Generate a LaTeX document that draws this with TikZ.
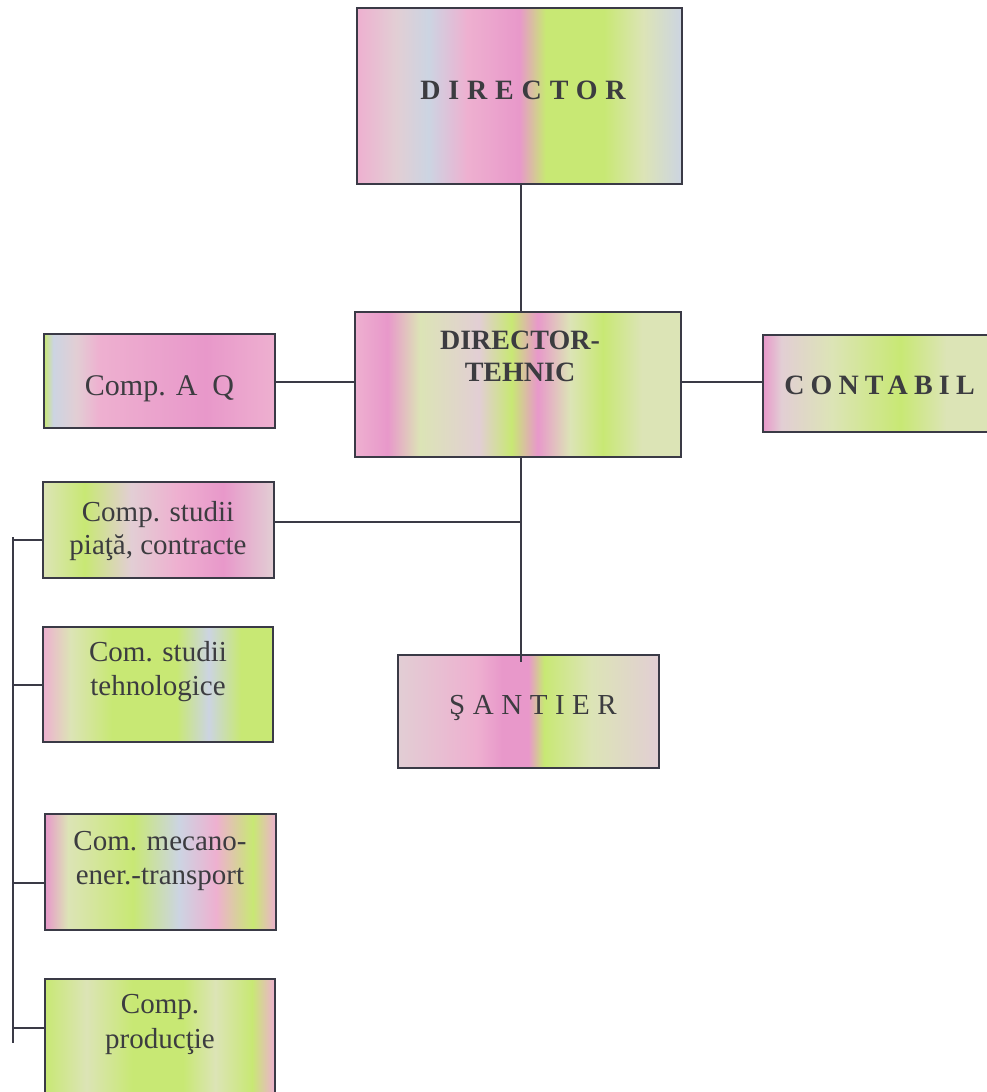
\documentclass[tikz,border=0pt]{standalone}
\usepackage{fontspec}
\setmainfont{Liberation Serif}
\usetikzlibrary{calc}
\definecolor{pk}{RGB}{238,176,208}
\definecolor{mg}{RGB}{232,152,202}
\definecolor{gr}{RGB}{200,232,116}
\definecolor{pg}{RGB}{220,228,182}
\definecolor{bl}{RGB}{204,212,226}
\definecolor{gy}{RGB}{226,206,212}
\definecolor{ink}{RGB}{60,60,64}
\definecolor{ln}{RGB}{58,58,70}
\pgfdeclarehorizontalshading{shDir}{100bp}{color(0bp)=(pk); color(25bp)=(pk); color(31bp)=(gy); color(36bp)=(bl); color(42bp)=(pk); color(50bp)=(mg); color(54bp)=(gr); color(63bp)=(gr); color(69bp)=(pg); color(75bp)=(bl); color(100bp)=(bl)}
\pgfdeclarehorizontalshading{shDT}{100bp}{color(0bp)=(pk); color(25bp)=(pk); color(30bp)=(mg); color(35bp)=(pg); color(44bp)=(gy); color(49bp)=(gr); color(53bp)=(mg); color(58bp)=(pg); color(63bp)=(gr); color(69bp)=(pg); color(75bp)=(pg); color(100bp)=(pg)}
\pgfdeclarehorizontalshading{shAQ}{100bp}{color(0bp)=(gr); color(25bp)=(gr); color(27bp)=(bl); color(32bp)=(gy); color(37bp)=(pk); color(60bp)=(mg); color(75bp)=(pk); color(100bp)=(pk)}
\pgfdeclarehorizontalshading{shCont}{100bp}{color(0bp)=(mg); color(25bp)=(mg); color(29bp)=(gy); color(40bp)=(pg); color(55bp)=(gr); color(65bp)=(pg); color(75bp)=(pg); color(100bp)=(pg)}
\pgfdeclarehorizontalshading{shCS}{100bp}{color(0bp)=(pg); color(25bp)=(pg); color(34bp)=(gr); color(44bp)=(gy); color(54bp)=(pk); color(64bp)=(mg); color(75bp)=(gy); color(100bp)=(gy)}
\pgfdeclarehorizontalshading{shCST}{100bp}{color(0bp)=(pk); color(25bp)=(pk); color(31bp)=(pg); color(40bp)=(gr); color(54bp)=(gr); color(61bp)=(bl); color(68bp)=(gr); color(75bp)=(gr); color(100bp)=(gr)}
\pgfdeclarehorizontalshading{shMec}{100bp}{color(0bp)=(mg); color(25bp)=(mg); color(30bp)=(pg); color(44bp)=(gr); color(54bp)=(bl); color(62bp)=(pk); color(70bp)=(gr); color(75bp)=(pk); color(100bp)=(pk)}
\pgfdeclarehorizontalshading{shProd}{100bp}{color(0bp)=(gr); color(25bp)=(gr); color(34bp)=(pg); color(44bp)=(gr); color(55bp)=(gr); color(62bp)=(pg); color(70bp)=(gr); color(75bp)=(pk); color(100bp)=(pk)}
\pgfdeclarehorizontalshading{shSan}{100bp}{color(0bp)=(gy); color(25bp)=(gy); color(40bp)=(pk); color(45bp)=(mg); color(50bp)=(mg); color(53bp)=(gr); color(62bp)=(pg); color(75bp)=(gy); color(100bp)=(gy)}
\begin{document}
\begin{tikzpicture}[x=1pt,y=-1pt,
  boxst/.style={draw=ln,line width=1.8pt,inner sep=0pt,rectangle},
  txt/.style={text=ink,inner sep=0pt,align=center},
  conn/.style={draw=ln,line width=1.8pt}]
\useasboundingbox[fill=white] (0,0) rectangle (987,1092);
\begin{scope}
\clip (0,0) rectangle (987,1092);
% boxes
\node[boxst,shading=shDir,minimum width=325pt,minimum height=176pt] (dir) at (519.5,96) {};
\node[boxst,shading=shDT,minimum width=326pt,minimum height=145pt] (dt) at (518,384.5) {};
\node[boxst,shading=shAQ,minimum width=231pt,minimum height=94pt] (aq) at (159.5,381) {};
\node[boxst,shading=shCont,minimum width=229pt,minimum height=97pt] (cont) at (877.5,383.5) {};
\node[boxst,shading=shCS,minimum width=231pt,minimum height=96pt] (cs) at (158.5,530) {};
\node[boxst,shading=shCST,minimum width=230pt,minimum height=115pt] (cst) at (158,684.5) {};
\node[boxst,shading=shMec,minimum width=231pt,minimum height=116pt] (mec) at (160.5,872) {};
\node[boxst,shading=shProd,minimum width=230pt,minimum height=122pt] (prod) at (160,1040) {};
\node[boxst,shading=shSan,minimum width=261pt,minimum height=113pt] (san) at (528.5,711.5) {};
% texts
\node[txt,font=\fontsize{28}{33}\selectfont\bfseries\addfontfeature{LetterSpace=28}] (dirt) at (523,90) {DIRECTOR};
\node[txt,font=\fontsize{28}{32}\selectfont\bfseries] (dtt) at (520,356) {DIRECTOR-\\TEHNIC};
\node[txt,font=\fontsize{30}{34}\selectfont] (aqt) at (159.5,389) {Comp. A\ \ Q};
\node[txt,font=\fontsize{28}{33}\selectfont\bfseries\addfontfeature{LetterSpace=22}] (contt) at (879.5,385) {CONTABIL};
\node[txt,font=\fontsize{29}{33}\selectfont] (cst1) at (158,531) {Comp. studii\\piaţă, contracte};
\node[txt,font=\fontsize{29}{34}\selectfont] (cstt) at (158,672) {Com. studii\\tehnologice};
\node[txt,font=\fontsize{29}{34}\selectfont] (mect) at (160,861) {Com. mecano-\\ener.-transport};
\node[txt,font=\fontsize{29}{35}\selectfont] (prodt) at (160,1024) {Comp.\\producţie};
\node[txt,font=\fontsize{29}{34}\selectfont\addfontfeature{LetterSpace=26}] (sant) at (533,708) {ŞANTIER};
% connectors
\coordinate (axis) at (521,0);
\coordinate (hl) at (0,382);
\draw[conn] (dir.south -| axis) -- (dt.north -| axis);
\draw[conn] (hl -| aq.east) -- (hl -| dt.west);
\draw[conn] (hl -| dt.east) -- (hl -| cont.west);
\coordinate (jn) at (521,522);
\draw[conn] (jn -| cs.east) -- (jn);
\coordinate (sanin) at (521,662);
\draw[conn] (dt.south -| axis) -- (sanin);
\coordinate (btop) at (13,537);
\coordinate (bbot) at (13,1043);
\draw[conn] (btop) -- (bbot);
\coordinate (t1) at (13,540);
\coordinate (t2) at (13,685);
\coordinate (t3) at (13,883);
\coordinate (t4) at (13,1028);
\draw[conn] (t1) -- (t1 -| cs.west);
\draw[conn] (t2) -- (t2 -| cst.west);
\draw[conn] (t3) -- (t3 -| mec.west);
\draw[conn] (t4) -- (t4 -| prod.west);
\end{scope}
\end{tikzpicture}
\end{document}
